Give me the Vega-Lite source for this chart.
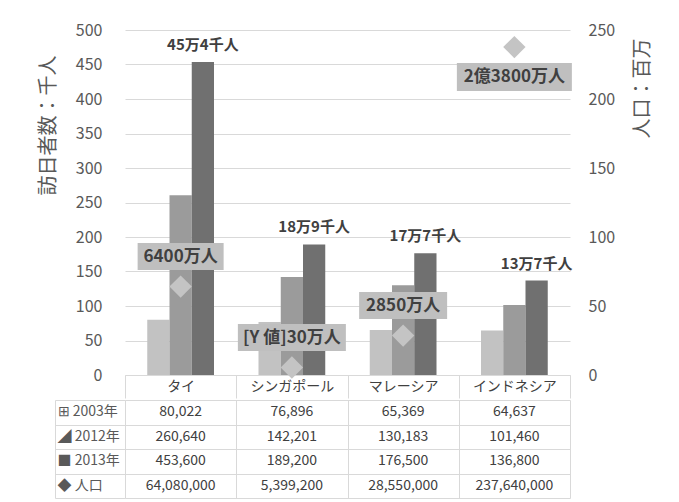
{
  "$schema": "https://vega.github.io/schema/vega-lite/v6.json",
  "padding": {"left": 38, "top": 22, "right": 5, "bottom": 4},
  "background": "white",
  "spacing": 0,
  "config": {
    "font": "Noto Sans CJK JP",
    "view": {"stroke": null},
    "axis": {"labelFont": "Noto Sans CJK JP", "titleFont": "Noto Sans CJK JP"}
  },
  "datasets": {
    "visitors": [
      {"country": "タイ", "series": "2003年", "visitors": 80022, "label": ""},
      {"country": "タイ", "series": "2012年", "visitors": 260640, "label": ""},
      {"country": "タイ", "series": "2013年", "visitors": 453600, "label": "45万4千人"},
      {"country": "シンガポール", "series": "2003年", "visitors": 76896, "label": ""},
      {"country": "シンガポール", "series": "2012年", "visitors": 142201, "label": ""},
      {"country": "シンガポール", "series": "2013年", "visitors": 189200, "label": "18万9千人"},
      {"country": "マレーシア", "series": "2003年", "visitors": 65369, "label": ""},
      {"country": "マレーシア", "series": "2012年", "visitors": 130183, "label": ""},
      {"country": "マレーシア", "series": "2013年", "visitors": 176500, "label": "17万7千人"},
      {"country": "インドネシア", "series": "2003年", "visitors": 64637, "label": ""},
      {"country": "インドネシア", "series": "2012年", "visitors": 101460, "label": ""},
      {"country": "インドネシア", "series": "2013年", "visitors": 136800, "label": "13万7千人"}
    ],
    "population": [
      {"country": "タイ", "pop": 64080000, "label": "6400万人"},
      {"country": "シンガポール", "pop": 5399200, "label": "[Y 値]30万人"},
      {"country": "マレーシア", "pop": 28550000, "label": "2850万人"},
      {"country": "インドネシア", "pop": 237640000, "label": "2億3800万人"}
    ]
  },
  "vconcat": [
    {
      "width": 445,
      "height": 345,
      "layer": [
        {
          "data": {"name": "visitors"},
          "encoding": {
            "x": {
              "field": "country", "type": "nominal", "title": null,
              "scale": {"domain": ["タイ", "シンガポール", "マレーシア", "インドネシア"], "paddingInner": 0, "paddingOuter": 0},
              "axis": {
                "labelAngle": 0, "tickBand": "extent", "tickSize": 23, "tickColor": "#d9d9d9",
                "domainColor": "#d9d9d9", "labelPadding": -11.5, "labelBaseline": "middle",
                "labelFontSize": 14, "labelColor": "#404040", "grid": false
              }
            },
            "xOffset": {
              "field": "series", "type": "nominal",
              "scale": {"domain": ["2003年", "2012年", "2013年"], "paddingInner": 0, "paddingOuter": 1.14}
            },
            "y": {
              "field": "visitors", "type": "quantitative",
              "scale": {"domain": [0, 500000], "nice": false},
              "axis": {
                "values": [0, 50000, 100000, 150000, 200000, 250000, 300000, 350000, 400000, 450000, 500000],
                "labelExpr": "format(datum.value / 1000, 'd')",
                "grid": true, "gridColor": "#d9d9d9", "ticks": false, "domain": false,
                "labelPadding": 23, "labelFontSize": 16, "labelColor": "#595959",
                "title": "訪日者数：千人", "titleFontSize": 20, "titleFontWeight": "normal",
                "titleColor": "#595959", "titlePadding": 17, "titleY": 95, "titleAngle": 270
              }
            }
          },
          "layer": [
            {
              "mark": {"type": "bar"},
              "encoding": {
                "color": {
                  "field": "series", "type": "nominal",
                  "scale": {"domain": ["2003年", "2012年", "2013年"], "range": ["#c2c2c2", "#9b9b9b", "#707070"]},
                  "legend": null
                }
              }
            },
            {
              "transform": [{"filter": "datum.series === '2013年'"}],
              "mark": {"type": "text", "dy": -17, "baseline": "middle", "fontSize": 15, "fontWeight": 600, "color": "#404040"},
              "encoding": {"text": {"field": "label"}}
            }
          ]
        },
        {
          "data": {"name": "population"},
          "encoding": {
            "x": {
              "field": "country", "type": "nominal", "title": null,
              "scale": {"domain": ["タイ", "シンガポール", "マレーシア", "インドネシア"], "paddingInner": 0, "paddingOuter": 0}
            },
            "y": {
              "field": "pop", "type": "quantitative",
              "scale": {"domain": [0, 250000000], "nice": false},
              "axis": {
                "orient": "right",
                "values": [0, 50000000, 100000000, 150000000, 200000000, 250000000],
                "labelExpr": "format(datum.value / 1000000, 'd')",
                "grid": false, "ticks": false, "domain": false,
                "labelPadding": 18, "labelFontSize": 16, "labelColor": "#595959",
                "title": "人口：百万", "titleFontSize": 20, "titleFontWeight": "normal",
                "titleColor": "#595959", "titlePadding": 18, "titleY": 58, "titleAngle": 270,
                "titleBaseline": "top"
              }
            }
          },
          "layer": [
            {
              "mark": {"type": "point", "shape": "diamond", "filled": true, "size": 500, "color": "#c4c4c4", "opacity": 1}
            },
            {
              "mark": {"type": "point", "filled": true, "size": 400, "color": "#bfbfbf", "opacity": 1},
              "encoding": {
                "shape": {
                  "field": "country", "type": "nominal", "legend": null,
                  "scale": {
                    "domain": ["タイ", "シンガポール", "マレーシア", "インドネシア"],
                    "range": [
                      "M-4.3,-4.35H4.3V-1.65H-4.3Z",
                      "M-5.4,-4.35H5.4V-1.65H-5.4Z",
                      "M-4.4,-4.35H4.4V-1.65H-4.4Z",
                      "M-5.75,1.6H5.75V4.4H-5.75Z"
                    ]
                  }
                }
              }
            },
            {
              "transform": [{"filter": "datum.pop < 200000000"}],
              "mark": {"type": "text", "dy": -30, "baseline": "middle", "fontSize": 17, "fontWeight": 600, "color": "#404040"},
              "encoding": {"text": {"field": "label"}}
            },
            {
              "transform": [{"filter": "datum.pop >= 200000000"}],
              "mark": {"type": "text", "dy": 30, "baseline": "middle", "fontSize": 17, "fontWeight": 600, "color": "#404040"},
              "encoding": {"text": {"field": "label"}}
            }
          ]
        }
      ],
      "resolve": {"scale": {"y": "independent"}}
    },
    {
      "width": 445,
      "height": 98,
      "encoding": {
        "x": {
          "field": "country", "type": "nominal", "title": null,
          "scale": {"domain": ["タイ", "シンガポール", "マレーシア", "インドネシア"], "paddingInner": 0, "paddingOuter": 0},
          "axis": {"orient": "top", "grid": true, "tickBand": "extent", "gridColor": "#d9d9d9", "labels": false, "ticks": false, "domain": false}
        }
      },
      "layer": [
        {
          "data": {"name": "visitors"},
          "mark": {"type": "text", "fontSize": 14, "color": "#404040", "baseline": "middle"},
          "encoding": {
            "y": {
              "field": "series", "type": "nominal", "title": null,
              "scale": {"domain": ["2003年", "2012年", "2013年", "人口"], "paddingInner": 0, "paddingOuter": 0},
              "axis": {
                "orient": "left", "grid": false, "ticks": false, "domain": false,
                "labelAlign": "left", "labelPadding": 68, "labelFontSize": 14, "labelColor": "#595959",
                "labelExpr": "(datum.value === '2003年' ? '⊞ ' : datum.value === '2012年' ? '◢ ' : datum.value === '2013年' ? '■ ' : '◆ ') + datum.value"
              }
            },
            "text": {"field": "visitors", "type": "quantitative", "format": ","}
          }
        },
        {
          "data": {"name": "population"},
          "mark": {"type": "text", "fontSize": 14, "color": "#404040", "baseline": "middle"},
          "encoding": {
            "y": {
              "datum": "人口", "type": "nominal", "title": null,
              "axis": {
                "orient": "left", "offset": 70, "grid": true, "gridColor": "#d9d9d9", "tickBand": "extent",
                "ticks": true, "tickSize": -70, "tickColor": "#d9d9d9", "domain": true, "domainColor": "#d9d9d9",
                "labels": false
              }
            },
            "text": {"field": "pop", "type": "quantitative", "format": ","}
          }
        }
      ],
      "resolve": {"axis": {"y": "independent"}}
    }
  ]
}
